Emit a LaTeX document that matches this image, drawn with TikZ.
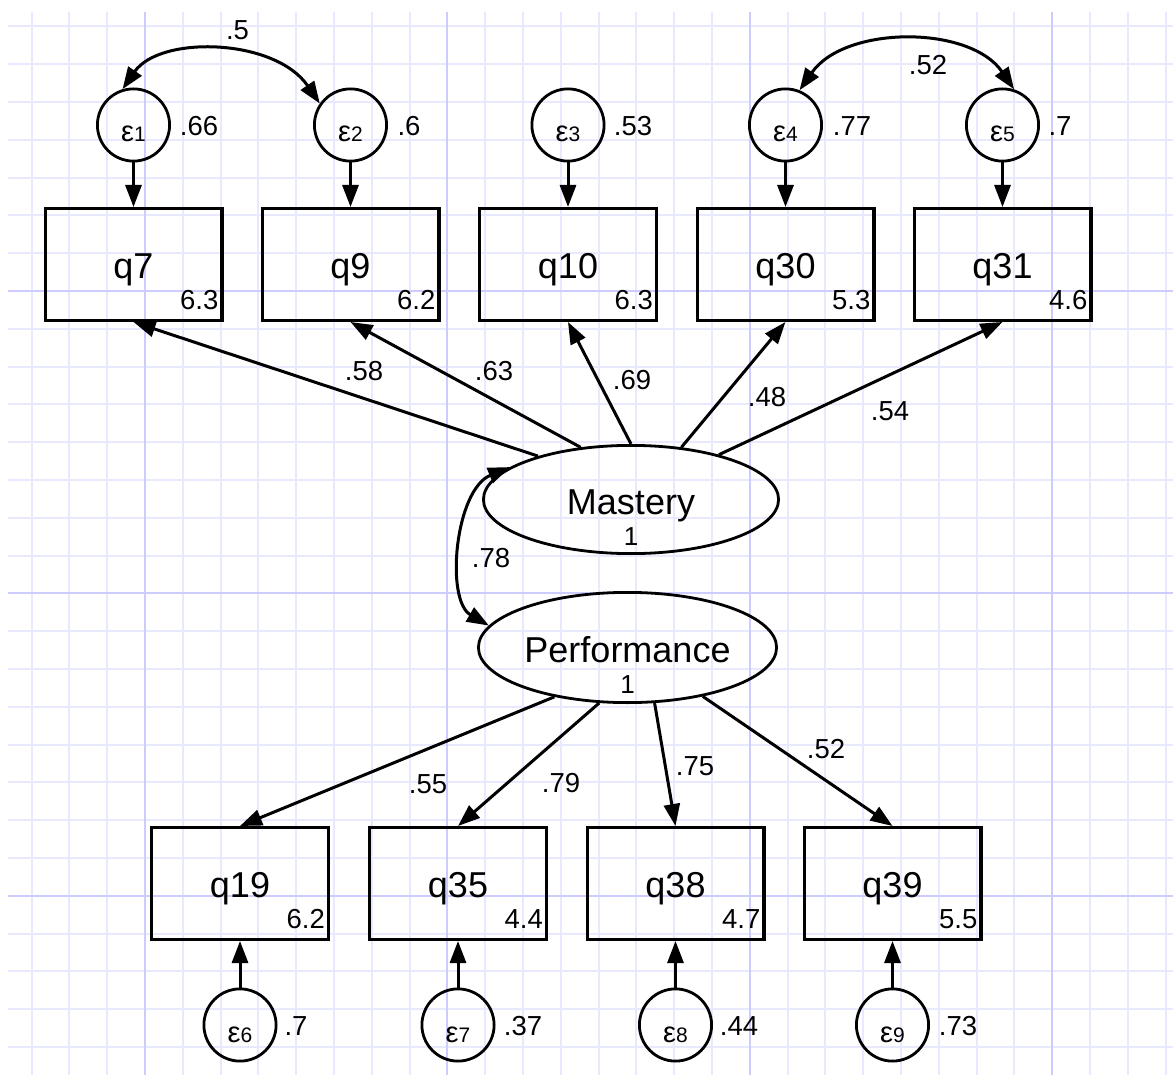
\documentclass[tikz,border=0pt]{standalone}
\usepackage{fontspec}
\setmainfont{Liberation Sans}
\usetikzlibrary{shapes.geometric,arrows.meta,calc}
\definecolor{gridminor}{RGB}{232,232,255}
\definecolor{gridmajor}{RGB}{204,204,255}
\newcommand\obstxt[1]{\smash{\raisebox{-14pt}{#1}}}
\newcommand\errtxt[1]{\smash{\raisebox{-17pt}{\fontsize{29}{29}\selectfont ε\fontsize{21}{21}\selectfont #1}}}
\newcommand\lattxt[1]{\smash{\raisebox{-15pt}{#1}}}
\begin{document}
\begin{tikzpicture}[x=1pt,y=-1pt,
  >={Triangle[length=22pt,width=16pt]},
  obs/.style={draw, line width=3.3pt, minimum width=176.7pt, minimum height=111.7pt, inner sep=0pt, font=\fontsize{36}{36}\selectfont},
  err/.style={draw, circle, line width=2.8pt, minimum size=72.2pt, inner sep=0pt},
  lat/.style={draw, ellipse, line width=2.8pt, inner sep=0pt, font=\fontsize{36}{36}\selectfont},
  lbl/.style={font=\fontsize{27.5}{27.5}\selectfont, inner sep=0pt, anchor=base},
  num/.style={font=\fontsize{27.5}{27.5}\selectfont, inner sep=0pt, anchor=base east},
  ld/.style={line width=3pt, ->},
  cv/.style={line width=3pt, <->},
  gridmin/.style={draw=gridminor, line width=2pt},
  gridmaj/.style={draw=gridmajor, line width=2pt}]
\useasboundingbox (0,0) rectangle (1173,1075);
\fill[white] (0,0) rectangle (1173,1075);
% grid
\foreach \k in {0,...,30} {\draw[gridmin] ({31.6+37.8*\k},12) -- ({31.6+37.8*\k},1075);}
\foreach \k in {0,...,27} {\draw[gridmin] (8,{26.4+37.8*\k}) -- (1173,{26.4+37.8*\k});}
\foreach \x in {145,447.4,749.8,1052.2} {\draw[gridmaj] (\x,12) -- (\x,1075);}
\foreach \y in {291,593.4,895.8} {\draw[gridmaj] (8,\y) -- (1173,\y);}

% latent variables
\node[lat, minimum width=295.2pt, minimum height=108.2pt] (M) at (631,499.5) {\lattxt{Mastery}};
\node[lat, minimum width=298.2pt, minimum height=110.2pt] (P) at (627.5,647.5) {\lattxt{Performance}};
\node[lbl, font=\fontsize{26}{26}\selectfont] (Mv) at (631,545) {1};
\node[lbl, font=\fontsize{26}{26}\selectfont] (Pv) at (627.5,693) {1};

% top observed
\foreach \n/\x/\v in {q7/133.5/6.3, q9/350.5/6.2, q10/568/6.3, q30/785.5/5.3, q31/1002.5/4.6} {
  \node[obs] (\n) at (\x,264.5) {\obstxt{\n}};
  \node[num] (\n v) at (\x+85,310) {\v};
}
% bottom observed
\foreach \n/\x/\v in {q19/240/6.2, q35/458/4.4, q38/675.5/4.7, q39/892.5/5.5} {
  \node[obs] (\n) at (\x,883.5) {\obstxt{\n}};
  \node[num] (\n v) at (\x+85,928) {\v};
}
% top errors
\foreach \e/\x/\q/\v/\lx/\i in {e1/133.5/q7/.66/199/1, e2/350.5/q9/.6/409/2, e3/568/q10/.53/633/3, e4/785.5/q30/.77/852/4, e5/1002.5/q31/.7/1060/5} {
  \node[err] (\e) at (\x,125) {\errtxt{\i}};
  \node[lbl] (\e v) at (\lx,136) {\v};
  \draw[ld] (\e.south) -- (\q.north);
}
% bottom errors
\foreach \e/\x/\q/\v/\lx/\i in {e6/240/q19/.7/296/6, e7/458/q35/.37/523/7, e8/675.5/q38/.44/739/8, e9/892.5/q39/.73/958/9} {
  \node[err] (\e) at (\x,1025) {\errtxt{\i}};
  \node[lbl] (\e v) at (\lx,1035) {\v};
  \draw[ld] (\e.north) -- (\q.south);
}

% loadings
\draw[ld] (M.155) -- (q7.south);
\draw[ld] (M.134) -- (q9.south);
\draw[ld] (M.90) -- (q10.south);
\draw[ld] (M.46) -- (q30.south);
\draw[ld] (M.27) -- (q31.south);
\draw[ld] (P.214) -- (q19.north);
\draw[ld] (P.243.5) -- (q35.north);
\draw[ld] (P.296.5) -- (q38.north);
\draw[ld] (P.327) -- (q39.north);

% covariances
\draw[cv] (e1.107) .. controls (160,35) and (275,38) .. (e2.145);
\draw[cv] (e4.68) .. controls (845,25) and (970,25) .. (e5.72);
\draw[cv] (M.165) .. controls (455,490) and (445,600) .. (P.171);

% path labels
\node[lbl] (l12) at (237.5,40) {.5};
\node[lbl] (l45) at (928,75) {.52};
\node[lbl] (l7) at (364,381) {.58};
\node[lbl] (l9) at (494,381) {.63};
\node[lbl] (l10) at (632,389) {.69};
\node[lbl] (l30) at (767,406) {.48};
\node[lbl] (l31) at (890,420) {.54};
\node[lbl] (lMP) at (491,567) {.78};
\node[lbl] (l19) at (428,793) {.55};
\node[lbl] (l35) at (561,792) {.79};
\node[lbl] (l38) at (695,775) {.75};
\node[lbl] (l39) at (826,758) {.52};
\end{tikzpicture}
\end{document}
